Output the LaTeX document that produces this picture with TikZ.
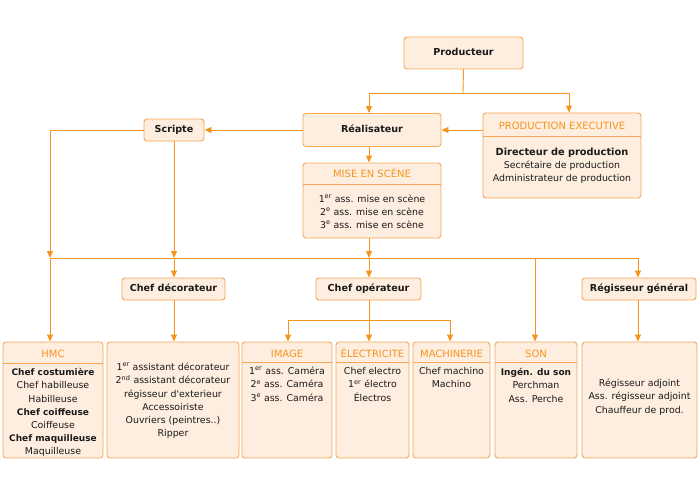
\documentclass[tikz,border=0pt]{standalone}
\usepackage{fontspec}
\setmainfont{DejaVu Sans}
\usetikzlibrary{arrows.meta}
\definecolor{boxfill}{HTML}{FEEEDF}
\definecolor{boxdraw}{HTML}{F8A654}
\definecolor{linec}{HTML}{F7941D}
\definecolor{headc}{HTML}{F7931E}
\definecolor{txt}{HTML}{1A1A1A}
\newcommand\myLbf{\bfseries\fontsize{9}{13.2}\selectfont}
\begin{document}
\begin{tikzpicture}[x=1pt,y=-1pt,
 box/.style={draw=boxdraw, fill=boxfill, rounded corners=3pt, line width=0.9pt, inner sep=0pt, text=txt},
 ttl/.style={box, font=\bfseries\fontsize{9.6}{11}\selectfont, text height=7pt, text depth=2pt},
 hdr/.style={font=\fontsize{10}{11}\selectfont, text=headc, anchor=base, inner sep=0pt},
 body/.style={font=\fontsize{9.4}{13.2}\selectfont, align=center, anchor=north, inner sep=0pt, text=txt},
 sepline/.style={draw=boxdraw, line width=0.9pt},
 conn/.style={draw=linec, line width=0.9pt},
 arr/.style={conn, -{Triangle[length=7pt,width=6pt]}},
]
\useasboundingbox[fill=white] (0,0) rectangle (700,500);

% top boxes
\node[ttl, minimum width=119pt, minimum height=32pt] (prod) at (463.5,53) {Producteur};
\node[ttl, minimum width=138pt, minimum height=33pt] (real) at (372,130) {Réalisateur};
\node[ttl, minimum width=60pt, minimum height=22pt] (scripte) at (174,130) {Scripte};
\node[box, minimum width=158pt, minimum height=85pt] (pe) at (562,155.5) {};
\node[box, minimum width=138pt, minimum height=75pt] (mes) at (372,200.5) {};
\draw[sepline] (pe.west |- 0,136) -- (pe.east |- 0,136);
\draw[sepline] (mes.west |- 0,184) -- (mes.east |- 0,184);
\node[hdr] (peh) at (562,129.6) {PRODUCTION EXECUTIVE};
\node[hdr] (mesh) at (372,177.6) {MISE EN SCÈNE};
\node[body, font=\fontsize{9.4}{13}\selectfont] (peb) at (562,146.3) {\strut\textbf{\fontsize{9.8}{13}\selectfont Directeur de production}\\Secrétaire de production\\Administrateur de production};
\node[body, font=\fontsize{9.4}{13}\selectfont] (mesb) at (372,193.3) {\strut 1\textsuperscript{er} ass. mise en scène\\2\textsuperscript{e} ass. mise en scène\\3\textsuperscript{e} ass. mise en scène};

% middle boxes
\node[ttl, minimum width=103pt, minimum height=22pt] (chdec) at (173.5,289) {Chef décorateur};
\node[ttl, minimum width=105pt, minimum height=22pt] (chop) at (368.5,289) {Chef opérateur};
\node[ttl, minimum width=114pt, minimum height=22pt] (regg) at (639,289) {Régisseur général};

% bottom boxes
\node[box, minimum width=100pt, minimum height=116pt] (hmc) at (53,400) {};
\node[box, minimum width=132pt, minimum height=116pt] (deco) at (173,400) {};
\node[box, minimum width=90pt, minimum height=116pt] (img) at (287,400) {};
\node[box, minimum width=73pt, minimum height=116pt] (elec) at (372.5,400) {};
\node[box, minimum width=77pt, minimum height=116pt] (mach) at (451.5,400) {};
\node[box, minimum width=82pt, minimum height=116pt] (son) at (536,400) {};
\node[box, minimum width=115pt, minimum height=116pt] (reg) at (639.5,400) {};
\draw[sepline] (hmc.west |- 0,363) -- (hmc.east |- 0,363);
\draw[sepline] (img.west |- 0,362) -- (img.east |- 0,362);
\draw[sepline] (elec.west |- 0,362) -- (elec.east |- 0,362);
\draw[sepline] (mach.west |- 0,362) -- (mach.east |- 0,362);
\draw[sepline] (son.west |- 0,362) -- (son.east |- 0,362);
\node[hdr] (hmch) at (53,357.4) {HMC};
\node[hdr] (imgh) at (287,357.4) {IMAGE};
\node[hdr] (elech) at (372.5,357.4) {ÉLECTRICITE};
\node[hdr] (machh) at (451.5,357.4) {MACHINERIE};
\node[hdr] (sonh) at (536,357.4) {SON};
\node[body] (hmcb) at (53,366.3) {\strut{\myLbf Chef costumière}\\Chef habilleuse\\Habilleuse\\{\myLbf Chef coiffeuse}\\Coiffeuse\\{\myLbf Chef maquilleuse}\\Maquilleuse};
\node[body] (decob) at (173,361.3) {\strut 1\textsuperscript{er} assistant décorateur\\2\textsuperscript{nd} assistant décorateur\\régisseur d\textquotesingle exterieur\\Accessoiriste\\Ouvriers (peintres..)\\Ripper};
\node[body] (imgb) at (287,365.3) {\strut 1\textsuperscript{er} ass. Caméra\\2\textsuperscript{e} ass. Caméra\\3\textsuperscript{e} ass. Caméra};
\node[body] (elecb) at (372.5,365.3) {\strut Chef electro\\1\textsuperscript{er} électro\\Électros};
\node[body] (machb) at (451.5,365.3) {\strut Chef machino\\Machino};
\node[body] (sonb) at (536,366.3) {\strut{\myLbf Ingén. du son}\\Perchman\\Ass. Perche};
\node[body] (regb) at (639.5,377.3) {\strut Régisseur adjoint\\Ass. régisseur adjoint\\Chauffeur de prod.};

% connectors
\coordinate (pj) at (463,93);
\coordinate (pl) at (369,93);
\coordinate (pr) at (569,93);
\draw[conn] (prod.south) -- (pj);
\draw[arr] (pj) -| (pl |- real.north);
\draw[arr] (pj) -| (pr |- pe.north);
\draw[arr] (real.west) -- (scripte.east);
\draw[arr] (pe.west |- real.east) -- (real.east);
\draw[arr] (pl |- real.south) -- (pl |- mes.north);

\coordinate (b1) at (50,258);
\coordinate (b2) at (174,258);
\coordinate (b3) at (369,258);
\coordinate (b4) at (535,258);
\coordinate (b5) at (638,258);
\draw[conn] (b1) -- (b5);
\draw[arr] (scripte.west) -| (b1);
\draw[arr] (b1) -- (b1 |- hmc.north);
\draw[arr] (scripte.south) -- (b2);
\draw[arr] (b2) -- (b2 |- chdec.north);
\draw[arr] (pl |- mes.south) -- (b3);
\draw[arr] (b3) -- (b3 |- chop.north);
\draw[arr] (b4) -- (b4 |- son.north);
\draw[arr] (b5) -- (b5 |- regg.north);
\draw[arr] (b2 |- chdec.south) -- (b2 |- deco.north);

\coordinate (oj) at (369,320);
\coordinate (ol) at (288,320);
\coordinate (or) at (450,320);
\draw[conn] (b3 |- chop.south) -- (oj);
\draw[conn] (ol) -- (or);
\draw[arr] (ol) -- (ol |- img.north);
\draw[arr] (oj) -- (oj |- elec.north);
\draw[arr] (or) -- (or |- mach.north);
\draw[arr] (b5 |- regg.south) -- (b5 |- reg.north);
\end{tikzpicture}
\end{document}
